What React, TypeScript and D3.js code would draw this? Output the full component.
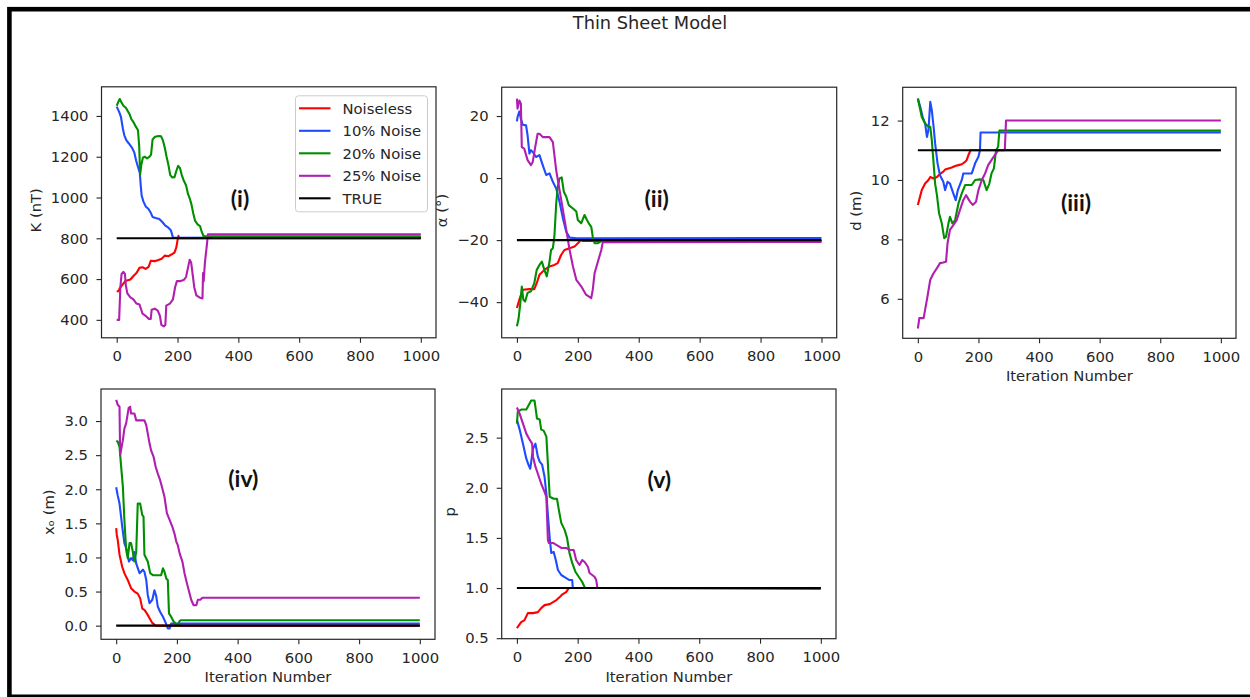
import React, { useEffect, useRef } from "react";
import * as d3 from "d3";

type Pt = [number, number];

// ---------- text / categories ----------
const figureTitle = "Thin Sheet Model";
const seriesNames = ["Noiseless", "10% Noise", "20% Noise", "25% Noise", "TRUE"];
const panelLabels = ["(i)", "(ii)", "(iii)", "(iv)", "(v)"];
const yLabels = ["K (nT)", "α (°)", "d (m)", "xₒ (m)", "p"];
const xLabel = "Iteration Number";
const xTicks = [0, 200, 400, 600, 800, 1000];
const iterExtent = [0, 1000];

// ---------- panel (i): K ----------
const kNoiseless: Pt[] = [[0,540],[6,540],[10,555],[18,570],[28,590],[45,598],[55,615],[65,630],[75,655],[85,658],[95,650],[105,660],[112,690],[125,688],[135,692],[148,700],[158,715],[170,712],[182,722],[190,730],[196,755],[200,790],[203,812],[205,800],[1000,800]];
const kNoise10: Pt[] = [[0,1446],[8,1420],[14,1395],[20,1340],[25,1305],[32,1280],[40,1265],[50,1245],[58,1220],[64,1180],[70,1150],[76,1120],[79,1060],[82,1010],[88,980],[96,955],[104,945],[112,925],[118,905],[128,900],[140,895],[150,880],[160,862],[170,852],[178,840],[182,820],[185,803],[1000,805]];
const kNoise20: Pt[] = [[0,1450],[5,1468],[10,1483],[15,1468],[22,1450],[30,1440],[36,1425],[42,1410],[48,1385],[55,1370],[62,1350],[70,1330],[74,1250],[77,1112],[81,1160],[86,1195],[92,1200],[100,1192],[108,1200],[113,1210],[118,1285],[126,1298],[138,1302],[146,1300],[152,1280],[158,1245],[164,1200],[170,1160],[176,1110],[183,1098],[190,1100],[196,1130],[202,1155],[208,1145],[214,1110],[220,1085],[228,1060],[234,1020],[240,996],[246,965],[252,920],[258,885],[266,868],[274,860],[280,830],[286,810],[1000,810]];
const kNoise25: Pt[] = [[0,400],[8,400],[12,560],[16,625],[22,635],[27,625],[30,570],[35,530],[45,510],[55,500],[65,480],[75,475],[85,430],[95,420],[105,405],[112,405],[115,450],[125,455],[135,445],[142,420],[147,375],[155,368],[160,375],[163,470],[175,480],[185,500],[192,560],[198,590],[210,590],[220,595],[228,610],[235,660],[240,695],[245,680],[250,620],[255,560],[262,520],[272,510],[282,505],[284,630],[286,590],[290,680],[296,760],[300,820],[1000,820]];

// ---------- panel (ii): alpha ----------
const aNoiseless: Pt[] = [[0,-41.9],[8,-39.2],[19,-36],[41,-35.8],[57,-35.8],[65,-33.9],[74,-31.2],[90,-29.6],[107,-28.5],[123,-28],[134,-27.4],[145,-24.8],[156,-23.2],[173,-22.6],[189,-22.1],[205,-20.5],[211,-19.7],[215,-20.3],[1000,-20.3]];
const aNoise10: Pt[] = [[0,18.3],[2,19.7],[8,21.5],[13,19.1],[19,17.2],[30,17],[35,13.8],[41,7.9],[46,9],[52,8.4],[63,6.8],[74,7.4],[85,4.1],[96,1],[107,1.5],[118,-1.2],[129,-3.4],[140,-7.7],[151,-13],[162,-17.3],[173,-19.2],[195,-19.4],[1000,-19.3]];
const aNoise20: Pt[] = [[0,-47.8],[5,-45.6],[10,-41.4],[16,-35],[21,-39.2],[27,-39.8],[35,-37],[46,-36.5],[57,-33.9],[65,-29.6],[74,-28],[82,-26.9],[90,-29.6],[98,-31.7],[107,-27],[112,-23.2],[118,-22.6],[123,-18.9],[129,-8.2],[134,-2.8],[140,-0.1],[147,0.2],[154,-4.4],[162,-6],[170,-8.7],[184,-9.8],[195,-10.8],[200,-13.5],[211,-14.6],[222,-11.9],[230,-13.5],[236,-14.6],[244,-15.7],[249,-18.9],[255,-21],[266,-21],[277,-20.3],[1000,-20.3]];
const aNoise25: Pt[] = [[0,25.6],[2,22.4],[8,25],[13,24],[16,10],[24,9.5],[35,5.8],[46,4.2],[52,5.2],[60,10],[68,14.3],[74,14.3],[85,13.2],[107,13.2],[118,11.6],[129,2.5],[140,-3.9],[151,-10.3],[162,-16.7],[173,-23.2],[184,-28.5],[195,-32.8],[211,-34.9],[227,-37.6],[244,-38.7],[249,-36],[255,-30.7],[266,-26.9],[277,-23.2],[282,-20.7],[1000,-20.6]];

// ---------- panel (iii): d ----------
const dNoiseless: Pt[] = [[0,9.16],[13,9.66],[24,9.88],[35,10.0],[41,10.1],[52,10.05],[63,10.1],[73,10.2],[84,10.28],[90,10.35],[101,10.39],[112,10.42],[123,10.47],[134,10.5],[145,10.53],[156,10.61],[161,10.67],[167,10.84],[174,11.0],[1000,11.0]];
const dNoise10: Pt[] = [[0,12.74],[8,12.46],[16,12.12],[24,11.9],[30,11.45],[35,11.68],[41,12.63],[46,12.35],[52,11.79],[57,11.23],[65,10.56],[73,10.16],[84,9.94],[90,9.66],[98,9.94],[106,9.88],[117,9.55],[125,9.32],[132,9.66],[145,10.0],[150,10.22],[178,10.22],[189,10.56],[200,10.78],[205,11.0],[207,11.6],[1000,11.6]];
const dNoise20: Pt[] = [[0,12.74],[13,12.12],[24,11.9],[35,11.79],[41,11.79],[46,11.34],[52,10.56],[57,9.88],[63,9.49],[70,8.88],[79,8.54],[87,8.04],[93,8.09],[101,8.54],[106,8.76],[114,8.54],[123,8.65],[134,9.21],[145,9.55],[156,9.83],[178,9.83],[189,10.0],[205,10.02],[216,10.0],[227,9.66],[236,9.88],[243,10.22],[251,10.39],[258,11.0],[265,11.12],[269,11.66],[1000,11.66]];
const dNoise25: Pt[] = [[0,5.0],[5,5.35],[19,5.35],[30,5.97],[41,6.64],[52,6.86],[63,7.03],[73,7.2],[84,7.22],[93,7.25],[98,7.87],[106,8.32],[117,8.48],[128,8.65],[139,8.99],[150,9.32],[159,9.49],[172,9.27],[181,9.16],[192,9.27],[200,9.66],[211,10.0],[222,10.22],[232,10.5],[243,10.67],[254,10.84],[265,11.0],[287,11.0],[291,12.0],[1000,12.0]];

// ---------- panel (iv): x0 ----------
const xNoiseless: Pt[] = [[0,1.43],[2,1.33],[5,1.26],[11,1.04],[20,0.86],[27,0.77],[38,0.67],[49,0.55],[60,0.5],[71,0.47],[79,0.4],[86,0.25],[93,0.23],[101,0.18],[110,0.11],[119,0.04],[130,0.0],[1000,0.0]];
const xNoise10: Pt[] = [[0,2.03],[5,1.91],[11,1.79],[20,1.45],[27,1.21],[35,1.11],[42,0.94],[49,0.99],[55,0.96],[60,1.08],[66,0.91],[77,0.77],[88,0.82],[93,0.79],[99,0.67],[104,0.45],[110,0.33],[119,0.38],[126,0.52],[132,0.43],[137,0.28],[145,0.2],[154,0.13],[163,0.04],[170,-0.04],[176,-0.04],[181,0.03],[1000,0.03]];
const xNoise20: Pt[] = [[0,2.71],[5,2.7],[11,2.62],[16,2.35],[22,2.04],[27,1.55],[33,1.11],[38,0.99],[44,1.21],[49,1.21],[55,1.08],[60,0.94],[66,1.08],[71,1.79],[79,1.79],[86,1.62],[90,1.6],[93,1.04],[104,0.94],[112,0.77],[121,0.74],[148,0.74],[154,0.84],[159,0.79],[165,0.69],[170,0.67],[174,0.18],[181,0.13],[189,0.06],[196,0.03],[203,0.01],[209,0.07],[214,0.08],[1000,0.08]];
const xNoise25: Pt[] = [[0,3.31],[5,3.24],[11,3.21],[13,2.5],[22,2.72],[27,2.89],[33,2.97],[41,3.19],[46,3.21],[49,3.11],[60,3.11],[66,3.01],[93,3.01],[99,2.94],[104,2.82],[110,2.67],[115,2.57],[123,2.48],[130,2.33],[137,2.23],[145,2.13],[152,2.01],[159,1.89],[167,1.65],[176,1.55],[185,1.45],[192,1.35],[198,1.23],[203,1.18],[209,1.06],[218,0.94],[225,0.77],[233,0.62],[240,0.5],[247,0.38],[255,0.3],[264,0.3],[269,0.38],[277,0.38],[284,0.41],[1000,0.41]];

// ---------- panel (v): p ----------
const pNoiseless: Pt[] = [[0,0.6],[7,0.63],[14,0.66],[25,0.68],[36,0.75],[53,0.75],[69,0.76],[80,0.8],[91,0.83],[108,0.84],[119,0.86],[130,0.88],[141,0.91],[151,0.94],[162,0.96],[171,1.0],[1000,1.0]];
const pNoise10: Pt[] = [[0,2.68],[9,2.58],[20,2.44],[31,2.29],[38,2.23],[44,2.19],[53,2.39],[61,2.44],[69,2.31],[75,2.26],[83,2.23],[91,2.11],[97,1.94],[102,1.73],[108,1.5],[113,1.35],[121,1.36],[128,1.28],[135,1.18],[146,1.13],[157,1.11],[173,1.08],[182,1.08],[184,1.0],[1000,1.0]];
const pNoise20: Pt[] = [[0,2.64],[3,2.76],[14,2.78],[31,2.78],[40,2.83],[47,2.87],[58,2.87],[64,2.74],[66,2.69],[75,2.68],[80,2.58],[88,2.57],[97,2.51],[102,2.24],[108,1.91],[121,1.89],[132,1.89],[138,1.78],[146,1.65],[157,1.58],[165,1.5],[173,1.35],[182,1.25],[193,1.16],[204,1.11],[215,1.06],[224,1.0],[1000,1.0]];
const pNoise25: Pt[] = [[0,2.8],[9,2.74],[20,2.64],[31,2.54],[42,2.48],[50,2.44],[53,2.31],[61,2.21],[69,2.14],[80,2.04],[91,1.96],[97,1.91],[102,1.48],[105,1.45],[119,1.45],[130,1.43],[146,1.4],[162,1.4],[173,1.38],[187,1.38],[195,1.28],[206,1.23],[215,1.28],[223,1.26],[234,1.21],[239,1.15],[248,1.13],[256,1.11],[261,1.08],[265,1.0],[1000,0.99]];

const trueValues = [800, -20, 11, 0, 1];
const yTicksK = [400, 600, 800, 1000, 1200, 1400];
const yTicksA = [-40, -20, 0, 20];
const yTicksD = [6, 8, 10, 12];
const yTicksX = [0, 0.5, 1, 1.5, 2, 2.5, 3];
const yTicksP = [0.5, 1, 1.5, 2, 2.5];

// ---------- layout / style ----------
const colors = ["#ff0000", "#1f4bff", "#008f00", "#b01fb0", "#000000"];
const FONT = "'DejaVu Sans', sans-serif";
const FS = 14.8;
const TXT = "#262626";

const panels = [
  { left: 101.5, top: 86.8, w: 334.5, h: 251, yDomain: [312, 1543], yTicks: yTicksK, fmt: "d", series: [kNoiseless, kNoise10, kNoise20, kNoise25], xlab: false, lab: [138.5, 111.5], legend: true },
  { left: 501.7, top: 87.2, w: 335, h: 250.6, yDomain: [-51.5, 29.3], yTicks: yTicksA, fmt: "d", series: [aNoiseless, aNoise10, aNoise20, aNoise25], xlab: false, lab: [155, 111], legend: false },
  { left: 902.7, top: 87.3, w: 333.3, h: 251, yDomain: [4.67, 13.12], yTicks: yTicksD, fmt: "d", series: [dNoiseless, dNoise10, dNoise20, dNoise25], xlab: true, lab: [173.3, 114.4], legend: false },
  { left: 101, top: 389, w: 334, h: 250.3, yDomain: [-0.2, 3.47], yTicks: yTicksX, fmt: ".1f", series: [xNoiseless, xNoise10, xNoise20, xNoise25], xlab: true, lab: [142.3, 89.3], legend: false },
  { left: 501.7, top: 389, w: 334.3, h: 249.7, yDomain: [0.495, 2.985], yTicks: yTicksP, fmt: ".1f", series: [pNoiseless, pNoise10, pNoise20, pNoise25], xlab: true, lab: [157.6, 90.3], legend: false },
];

export default function App() {
  const ref = useRef<SVGSVGElement | null>(null);

  useEffect(() => {
    const svg = d3.select(ref.current);
    svg.selectAll("*").remove();

    svg.append("rect").attr("x", 0).attr("y", 0).attr("width", 1250).attr("height", 697).attr("fill", "#fff");
    svg.append("rect").attr("x", 9.4).attr("y", 9.2).attr("width", 1270).attr("height", 687.6)
      .attr("fill", "none").attr("stroke", "#000").attr("stroke-width", 4.6);

    svg.append("text").text(figureTitle).attr("x", 650).attr("y", 22).attr("text-anchor", "middle")
      .attr("dominant-baseline", "central").attr("font-family", FONT).attr("font-size", 17.8).attr("fill", TXT);

    panels.forEach((p, pi) => {
      const g = svg.append("g").attr("transform", `translate(${p.left},${p.top})`);
      const x = d3.scaleLinear().domain([-50, 1050]).range([0, p.w]);
      const y = d3.scaleLinear().domain(p.yDomain).range([p.h, 0]);

      const xAxis = g.append("g").attr("transform", `translate(0,${p.h})`)
        .call(d3.axisBottom(x).tickValues(xTicks).tickSize(5).tickPadding(8).tickFormat(d3.format("d")));
      const yAxis = g.append("g")
        .call(d3.axisLeft(y).tickValues(p.yTicks).tickSize(5).tickPadding(8).tickFormat(d3.format(p.fmt)));
      [xAxis, yAxis].forEach((a) => {
        a.attr("font-family", FONT).attr("font-size", FS);
        a.select(".domain").remove();
        a.selectAll("line").attr("stroke", TXT).attr("stroke-width", 1.1);
        a.selectAll("text").attr("fill", TXT);
      });

      const line = d3.line<Pt>().x((d) => x(d[0])).y((d) => y(d[1]));
      p.series.forEach((s, si) => {
        g.append("path").datum(s).attr("d", line).attr("fill", "none")
          .attr("stroke", colors[si]).attr("stroke-width", 2.1).attr("stroke-linejoin", "round");
      });
      const trueLine: Pt[] = [[iterExtent[0], trueValues[pi]], [iterExtent[1], trueValues[pi]]];
      g.append("path").datum(trueLine).attr("d", line).attr("fill", "none")
        .attr("stroke", colors[4]).attr("stroke-width", 2.1);

      g.append("rect").attr("x", 0).attr("y", 0).attr("width", p.w).attr("height", p.h)
        .attr("fill", "none").attr("stroke", "#262626").attr("stroke-width", 1.2);

      // y label: place relative to measured tick label extent
      const bb = (yAxis.node() as SVGGElement).getBBox();
      const lx = bb.x - 15.5;
      g.append("text").text(yLabels[pi])
        .attr("transform", `translate(${lx},${p.h / 2 - 2}) rotate(-90)`)
        .attr("text-anchor", "middle").attr("dominant-baseline", "central")
        .attr("font-family", FONT).attr("font-size", FS).attr("fill", TXT);

      if (p.xlab) {
        g.append("text").text(xLabel).attr("x", p.w / 2).attr("y", p.h + 37.5)
          .attr("text-anchor", "middle").attr("dominant-baseline", "central")
          .attr("font-family", FONT).attr("font-size", FS).attr("fill", TXT);
      }

      g.append("text").text(panelLabels[pi]).attr("x", p.lab[0]).attr("y", p.lab[1])
        .attr("text-anchor", "middle").attr("dominant-baseline", "central")
        .attr("font-family", "Lato, 'Open Sans', sans-serif").attr("font-weight", 700)
        .attr("font-size", 23).attr("fill", "#111");

      if (p.legend) {
        const lg = g.append("g").attr("transform", "translate(194,9)");
        lg.append("rect").attr("x", 0).attr("y", 0).attr("width", 132).attr("height", 116)
          .attr("rx", 3).attr("fill", "#fff").attr("fill-opacity", 0.8)
          .attr("stroke", "#cccccc").attr("stroke-width", 1);
        seriesNames.forEach((n, i) => {
          const yy = 12.5 + i * 22.5;
          lg.append("line").attr("x1", 3.5).attr("x2", 35).attr("y1", yy).attr("y2", yy)
            .attr("stroke", colors[i]).attr("stroke-width", 2.1);
          lg.append("text").text(n).attr("x", 47).attr("y", yy).attr("dominant-baseline", "central")
            .attr("font-family", FONT).attr("font-size", FS).attr("fill", TXT);
        });
      }
    });
  }, []);

  return (
    <svg ref={ref} width={1250} height={697}
      style={{ position: "absolute", left: 0, top: 0, display: "block" }} />
  );
}
